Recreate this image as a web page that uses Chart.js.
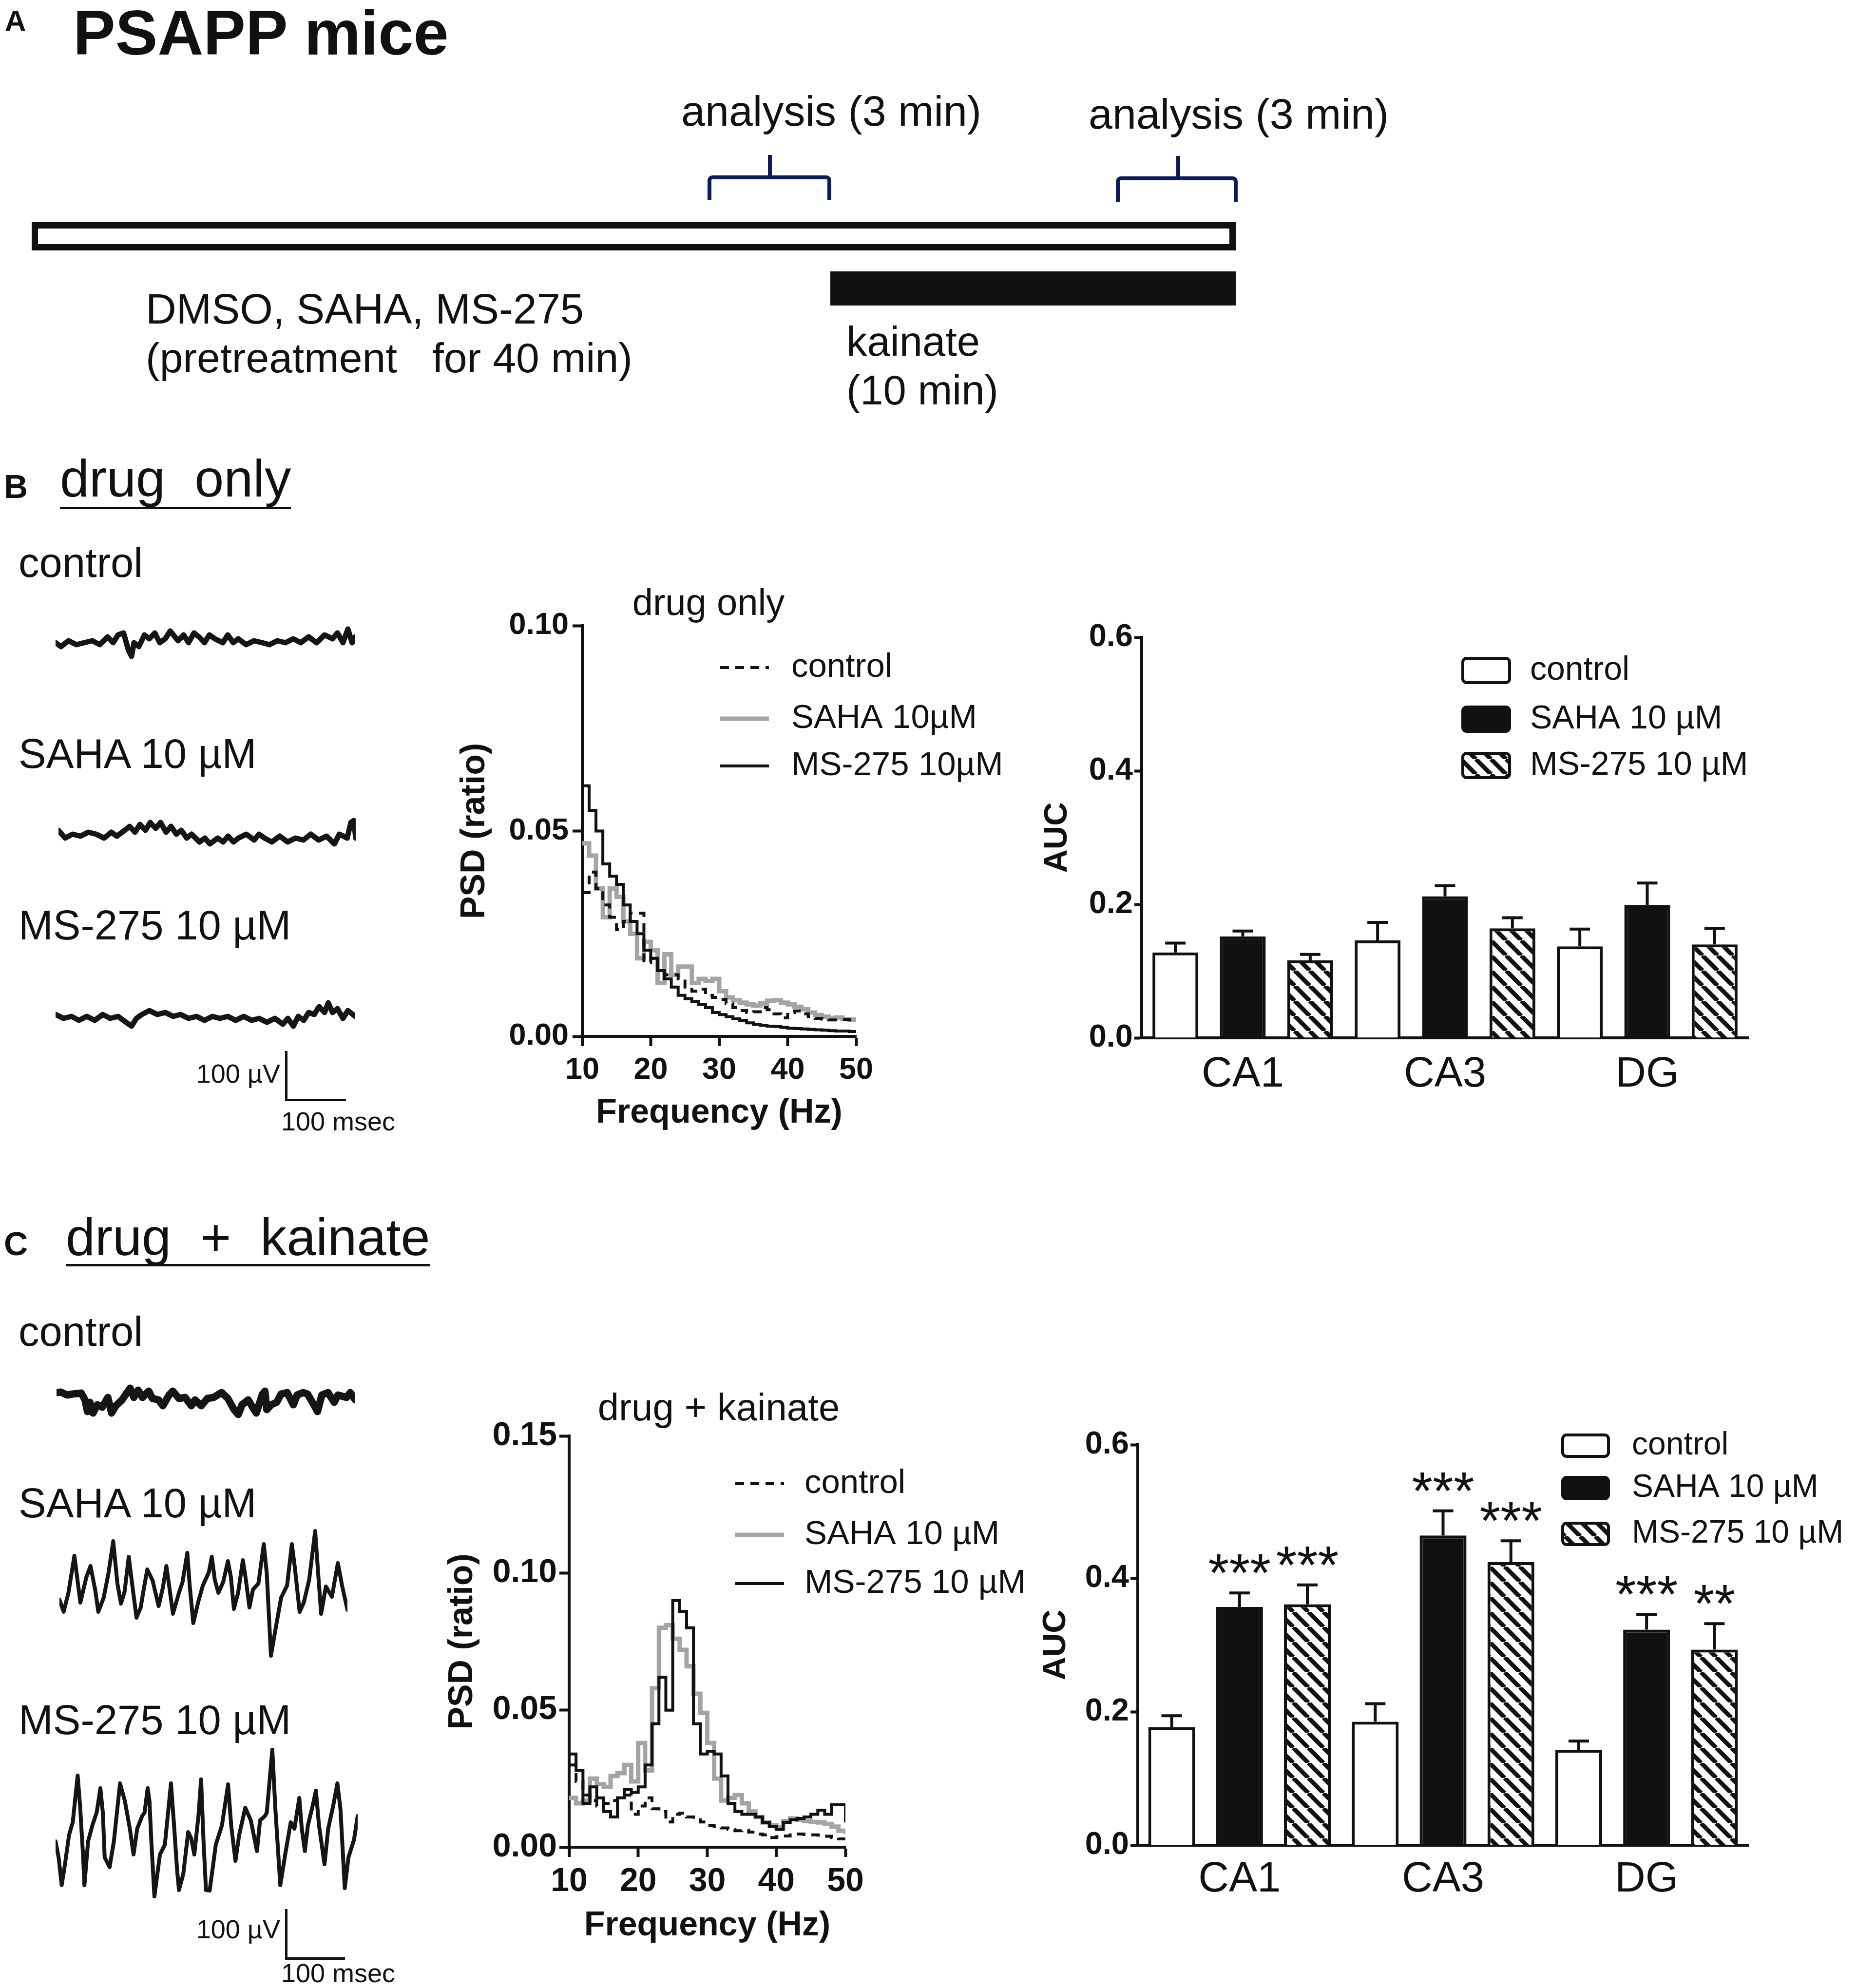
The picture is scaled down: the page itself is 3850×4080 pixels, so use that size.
<!DOCTYPE html>
<html lang="en">
<head>
<meta charset="UTF-8">
<title>PSAPP mice - drug only / drug + kainate</title>
<script src="https://cdn.jsdelivr.net/npm/chart.js"></script>
<style>
  html, body { margin: 0; padding: 0; background: #fff; }
  body { width: 3850px; height: 4080px; position: relative; overflow: hidden;
         font-family: "Liberation Sans", Arial, Helvetica, sans-serif; color: #111; }
  .t { position: absolute; line-height: 1; white-space: pre; }
  .b { position: absolute; }
</style>
</head>
<body>
<script>
// ---------- data ----------
const freqHz = [10,11,12,13,14,15,16,17,18,19,20,21,22,23,24,25,26,27,28,29,30,
                31,32,33,34,35,36,37,38,39,40,41,42,43,44,45,46,47,48,49,50];

// B: drug only, PSD (ratio)
const psdB_control = [0.035,0.040,0.036,0.032,0.029,0.026,0.028,0.030,0.030,0.018,
                      0.019,0.016,0.015,0.015,0.014,0.012,0.011,0.0115,0.010,0.0095,
                      0.009,0.008,0.007,0.0063,0.0058,0.006,0.007,0.0065,0.0055,0.0045,
                      0.0058,0.0062,0.0055,0.0048,0.0044,0.0042,0.0040,0.0040,0.0041,0.0040,0.0040];
const psdB_saha = [0.047,0.044,0.036,0.029,0.036,0.034,0.028,0.025,0.019,0.023,
                   0.021,0.013,0.020,0.015,0.017,0.017,0.013,0.014,0.0135,0.014,
                   0.011,0.0095,0.0088,0.0082,0.0078,0.0075,0.0080,0.0087,0.0088,0.0082,
                   0.0078,0.0072,0.0066,0.0058,0.0052,0.0048,0.0044,0.0046,0.0042,0.0041,0.0040];
const psdB_ms = [0.061,0.055,0.050,0.042,0.039,0.037,0.032,0.028,0.025,0.021,
                 0.019,0.016,0.014,0.012,0.010,0.0092,0.0085,0.0078,0.0070,0.0058,
                 0.0053,0.0048,0.0043,0.0039,0.0033,0.0029,0.0027,0.0025,0.0024,0.0022,
                 0.0020,0.0019,0.0018,0.0017,0.0016,0.0015,0.0014,0.0013,0.0013,0.0012,0.0012];

// C: drug + kainate, PSD (ratio)
const psdC_control = [0.030,0.024,0.019,0.017,0.015,0.016,0.017,0.018,0.019,0.012,
                      0.015,0.018,0.014,0.013,0.0092,0.012,0.0124,0.011,0.010,0.0092,
                      0.008,0.0075,0.007,0.0065,0.006,0.0062,0.0055,0.0048,0.0045,0.0035,
                      0.0038,0.0041,0.0045,0.0048,0.0046,0.0045,0.0044,0.0040,0.0035,0.0030,0.0029];
const psdC_saha = [0.018,0.016,0.017,0.025,0.023,0.022,0.026,0.027,0.030,0.024,
                   0.038,0.028,0.058,0.080,0.081,0.076,0.072,0.066,0.056,0.049,
                   0.038,0.025,0.017,0.018,0.019,0.016,0.013,0.011,0.009,0.008,
                   0.0073,0.0095,0.0105,0.010,0.0095,0.0092,0.009,0.0085,0.0075,0.006,0.0048];
const psdC_ms = [0.034,0.028,0.016,0.022,0.018,0.013,0.011,0.018,0.021,0.020,
                 0.022,0.030,0.045,0.062,0.050,0.090,0.086,0.080,0.045,0.034,
                 0.035,0.034,0.026,0.016,0.013,0.012,0.012,0.011,0.009,0.0075,
                 0.0065,0.009,0.010,0.0105,0.011,0.012,0.0135,0.012,0.0155,0.0155,0.009];

const psdLabelsB = ['control', 'SAHA 10µM', 'MS-275 10µM'];
const psdLabelsC = ['control', 'SAHA 10 µM', 'MS-275 10 µM'];

// AUC bars
const regions = ['CA1', 'CA3', 'DG'];
const barLabels = ['control', 'SAHA 10 µM', 'MS-275 10 µM'];
const aucB_control = [0.128, 0.146, 0.137], errB_control = [0.014, 0.027, 0.026];
const aucB_saha    = [0.152, 0.212, 0.199], errB_saha    = [0.008, 0.016, 0.033];
const aucB_ms      = [0.116, 0.164, 0.140], errB_ms      = [0.009, 0.016, 0.024];
const aucC_control = [0.177, 0.185, 0.143], errC_control = [0.017, 0.027, 0.013];
const aucC_saha    = [0.357, 0.464, 0.323], errC_saha    = [0.021, 0.037, 0.023];
const aucC_ms      = [0.361, 0.424, 0.293], errC_ms      = [0.029, 0.032, 0.039];
const starsC_saha = ['***', '***', '***'];
const starsC_ms   = ['***', '***', '**'];

// example EEG traces: time (ms) and amplitude (µV)
const tB_control = [0,9,21,34,47,60,72,85,94,102,111,119,124,128,136,145,153,162,170,179,187,200,209,217,226,
                    234,243,251,260,273,281,290,298,311,324,337,349,362,375,388,400,413,426,439,452,460,469,477,484,489];
const vB_control = [-4,-12,0,-8,-4,0,-8,8,-4,12,16,-20,-32,-4,-12,12,4,16,-4,4,20,0,12,-4,16,
                    8,-4,12,4,-4,12,-4,4,-8,0,-4,-8,0,-4,4,-4,8,-4,12,4,16,-4,24,-4,8];
const tB_saha = [0,11,23,36,49,62,75,87,96,109,117,126,134,143,151,160,168,177,185,194,202,211,219,232,241,
                 249,262,271,279,288,296,309,322,330,339,351,364,377,390,403,415,428,441,454,462,475,481,486,489];
const vB_saha = [8,-8,0,-4,4,0,-8,4,-4,8,16,4,20,8,24,12,24,4,16,0,8,-8,0,-16,-8,
                 -20,-8,-16,-4,-16,-8,0,-12,0,-8,-16,-4,-16,-8,-12,0,-12,-4,-20,0,-8,24,28,-8];
const tB_ms = [0,13,26,38,51,64,77,89,102,115,124,132,141,153,166,179,192,204,217,230,243,256,268,281,294,
               307,320,332,345,358,371,379,388,396,405,413,422,430,439,445,452,460,469,477,489];
const vB_ms = [4,-4,0,-8,0,-8,4,-4,0,-12,-20,-4,4,12,4,8,0,4,-4,0,-8,0,-4,0,-8,
               0,-8,-4,-12,-4,-16,-4,-20,0,-8,8,4,20,8,28,8,16,-4,12,0];
const tC_control = [0,7,17,26,40,46,50,54,59,66,74,83,89,96,106,114,119,125,132,139,149,155,165,172,182,188,198,208,
                    218,224,234,244,254,267,277,287,294,300,310,317,323,333,337,340,347,356,363,373,383,389,399,406,
                    416,422,429,439,449,455,469,475,483];
const vC_control = [15,16,10,12,14,0,-24,-5,-27,-10,-15,5,-27,-12,0,15,24,5,20,5,18,3,0,-12,10,18,3,5,
                    -12,0,-12,3,5,15,3,-20,-30,-10,0,-15,-27,12,18,-20,-10,-5,12,15,-10,10,15,12,
                    -10,-24,10,15,-5,10,5,15,0];
const tC_saha = [0,7,15,25,35,45,52,60,65,74,82,90,97,103,109,116,122,129,136,141,147,156,166,173,179,185,190,200,
                 206,214,218,224,232,240,250,255,260,266,274,282,287,292,299,307,312,318,324,333,342,347,354,361,
                 371,381,389,394,402,409,418,428,433,438,446,456,466,473,482];
const vC_saha = [-4,-29,10,86,-10,42,65,15,-29,0,50,116,29,-12,12,84,25,-41,-20,17,58,35,-17,20,65,12,-33,10,
                 32,92,25,-52,-10,25,52,84,37,10,32,75,42,-23,10,77,37,-20,17,29,110,50,-119,-69,
                 0,25,110,62,-29,-10,37,137,50,-33,23,2,71,25,-25];
const tC_ms = [0,5,10,15,22,28,36,40,45,47,53,60,67,73,77,80,88,95,105,113,121,127,133,141,145,150,153,156,161,170,
               178,188,193,198,201,208,216,221,226,233,237,241,245,251,261,271,281,286,293,299,309,318,328,333,341,
               344,353,358,366,374,383,389,397,401,406,411,418,424,429,438,444,452,459,464,471,477,486,492];
const vC_ms = [-26,-59,-116,-76,-13,13,109,46,-59,-116,-26,7,33,83,33,-59,-79,-26,93,56,0,-53,0,26,33,83,56,-26,-139,-53,
               -33,93,7,-86,-126,-93,-7,-20,-53,30,101,-26,-126,-127,-33,7,91,7,-66,-13,43,17,-46,17,26,
               33,162,40,-116,-53,13,0,63,0,-46,7,43,78,7,-73,0,46,93,40,-122,-59,-23,26];

// ---------- helpers ----------
const FONT = '"Liberation Sans", Arial, Helvetica, sans-serif';
Chart.defaults.font.family = FONT;
Chart.defaults.color = '#111';

const pairs = (xs, ys) => xs.map((x, i) => ({ x, y: ys[i] }));

function addText(txt, left, baseline, size, extra) {
  const d = document.createElement('div');
  d.className = 't';
  d.textContent = txt;
  d.style.left = left + 'px';
  d.style.top = (baseline - 0.8465 * size) + 'px';
  d.style.fontSize = size + 'px';
  if (extra) Object.assign(d.style, extra);
  document.body.appendChild(d);
  return d;
}
function addCentered(txt, cx, baseline, size) {
  return addText(txt, cx - 600, baseline, size, { width: '1200px', textAlign: 'center' });
}
function addRight(txt, right, baseline, size) {
  return addText(txt, right - 600, baseline, size, { width: '600px', textAlign: 'right' });
}
function box(left, top, width, height, style) {
  const d = document.createElement('div');
  d.className = 'b';
  Object.assign(d.style, { left: left + 'px', top: top + 'px', width: width + 'px', height: height + 'px' }, style);
  document.body.appendChild(d);
  return d;
}
function underline(el, y) {
  box(parseFloat(el.style.left), y, el.offsetWidth, 5, { background: '#111' });
}
function makeCanvas(left, top, width, height) {
  const div = box(left, top, width, height, {});
  const c = document.createElement('canvas');
  div.appendChild(c);
  return c;
}

// hatch tile for MS-275 bars
const hatchTile = document.createElement('canvas');
(function () {
  const s = 31;
  hatchTile.width = s; hatchTile.height = s;
  const g = hatchTile.getContext('2d');
  g.fillStyle = '#fff'; g.fillRect(0, 0, s, s);
  g.strokeStyle = '#111'; g.lineWidth = 9;
  g.beginPath();
  for (let k = -1; k <= 1; k++) { g.moveTo(k * s, 0); g.lineTo(k * s + s, s); }
  g.stroke();
})();

// ---------- plugins ----------
const psdLegend = {
  id: 'psdLegend',
  afterDraw(chart, args, o) {
    const ctx = chart.ctx;
    chart.data.datasets.forEach((ds, i) => {
      const y = o.rows[i];
      ctx.save();
      ctx.strokeStyle = ds.borderColor;
      ctx.lineWidth = ds.borderWidth;
      ctx.setLineDash(ds.borderDash || []);
      ctx.beginPath(); ctx.moveTo(o.x, y); ctx.lineTo(o.x + o.sample, y); ctx.stroke();
      ctx.setLineDash([]);
      ctx.fillStyle = '#111';
      ctx.font = `${o.size}px ${FONT}`;
      ctx.textBaseline = 'middle';
      ctx.fillText(ds.label, o.x + o.sample + o.gap, y);
      ctx.restore();
    });
  }
};

const barExtras = {
  id: 'barExtras',
  afterDatasetsDraw(chart, args, o) {
    const ctx = chart.ctx, y = chart.scales.y;
    chart.data.datasets.forEach((ds, i) => {
      chart.getDatasetMeta(i).data.forEach((bar, j) => {
        const top = y.getPixelForValue(ds.data[j] + ds.err[j]);
        ctx.save();
        ctx.strokeStyle = '#111'; ctx.lineWidth = 6;
        ctx.beginPath();
        ctx.moveTo(bar.x, bar.y); ctx.lineTo(bar.x, top);
        ctx.moveTo(bar.x - o.cap, top); ctx.lineTo(bar.x + o.cap, top);
        ctx.stroke();
        if (ds.stars && ds.stars[j]) {
          ctx.fillStyle = '#111';
          ctx.font = `${o.starSize}px ${FONT}`;
          ctx.textAlign = 'center';
          ctx.textBaseline = 'alphabetic';
          ctx.fillText(ds.stars[j], bar.x, top - o.starGap);
        }
        ctx.restore();
      });
    });
  },
  afterDraw(chart, args, o) {
    const ctx = chart.ctx, L = o.legend;
    chart.data.datasets.forEach((ds, i) => {
      const yc = L.rows[i];
      ctx.save();
      ctx.beginPath();
      ctx.roundRect(L.x, yc - L.h / 2, L.w, L.h, 8);
      ctx.fillStyle = ds.backgroundColor; ctx.fill();
      ctx.lineWidth = 6; ctx.strokeStyle = '#111'; ctx.stroke();
      ctx.fillStyle = '#111';
      ctx.font = `${L.size}px ${FONT}`;
      ctx.textBaseline = 'middle';
      ctx.fillText(ds.label, L.textX, yc);
      ctx.restore();
    });
  }
};

// ---------- chart builders ----------
function psdChart(o) {
  const padTop = 60;
  const left = o.area.left - o.yW, top = o.area.top - padTop;
  const width = o.area.right + o.padRight - left, height = o.area.bottom + o.xH - top;
  const canvas = makeCanvas(left, top, width, height);
  const tickFont = { size: o.tick, weight: 'bold' };
  const titleFont = { size: 70, weight: 'bold' };
  const grid = { display: true, drawOnChartArea: false, drawTicks: true, tickLength: 20, tickWidth: 6, tickColor: '#111' };
  const border = { display: true, color: '#111', width: 6 };
  const line = { stepped: true, pointRadius: 0, fill: false };
  new Chart(canvas, {
    type: 'line',
    data: { datasets: [
      { ...line, label: o.labels[0], data: pairs(freqHz, o.control), borderColor: '#111', borderWidth: 6, borderDash: [18, 13], order: 0 },
      { ...line, label: o.labels[1], data: pairs(freqHz, o.saha), borderColor: '#a4a4a4', borderWidth: 9, order: 2 },
      { ...line, label: o.labels[2], data: pairs(freqHz, o.ms), borderColor: '#111', borderWidth: 6, order: 1 }
    ]},
    options: {
      responsive: true, maintainAspectRatio: false, animation: false,
      layout: { padding: { left: 0, top: padTop, right: o.padRight, bottom: 0 } },
      plugins: {
        legend: { display: false }, tooltip: { enabled: false },
        psdLegend: { x: o.legend.x - left, rows: o.legend.rows.map(r => r - top), sample: 100, gap: o.legend.gap, size: 69 }
      },
      scales: {
        x: { type: 'linear', min: 10, max: 50,
             ticks: { stepSize: 10, font: tickFont, color: '#111', padding: o.xPad, maxRotation: 0 },
             grid, border,
             title: { display: true, text: 'Frequency (Hz)', font: titleFont, color: '#111', padding: 0 },
             afterFit: s => { s.height = o.xH; } },
        y: { type: 'linear', min: 0, max: o.yMax,
             ticks: { stepSize: 0.05, font: tickFont, color: '#111', padding: o.yPad, callback: v => v.toFixed(2) },
             grid, border,
             title: { display: true, text: 'PSD (ratio)', font: titleFont, color: '#111', padding: 0 },
             afterFit: s => { s.width = o.yW; } }
      }
    },
    plugins: [psdLegend]
  });
}

function aucChart(o) {
  const padTop = 60;
  const left = o.area.left - o.yW, top = o.area.top - padTop;
  const width = o.area.right + o.padRight - left, height = o.area.bottom + o.xH - top;
  const canvas = makeCanvas(left, top, width, height);
  const hatch = canvas.getContext('2d').createPattern(hatchTile, 'repeat');
  const border = { display: true, color: '#111', width: 6 };
  const bar = { borderColor: '#111', borderWidth: 6, borderSkipped: 'start', categoryPercentage: 1, barPercentage: o.barPct };
  const L = o.legend;
  new Chart(canvas, {
    type: 'bar',
    data: { labels: regions, datasets: [
      { ...bar, label: barLabels[0], data: o.control, err: o.errControl, backgroundColor: '#fff' },
      { ...bar, label: barLabels[1], data: o.saha, err: o.errSaha, stars: o.starsSaha, backgroundColor: '#111' },
      { ...bar, label: barLabels[2], data: o.ms, err: o.errMs, stars: o.starsMs, backgroundColor: hatch }
    ]},
    options: {
      responsive: true, maintainAspectRatio: false, animation: false,
      layout: { padding: { left: 0, top: padTop, right: o.padRight, bottom: 0 } },
      plugins: {
        legend: { display: false }, tooltip: { enabled: false },
        barExtras: { cap: 21, starSize: 110, starGap: 4,
          legend: { x: L.x - left, w: L.w, h: L.h, rows: L.rows.map(r => r - top), textX: L.textX - left, size: L.size } }
      },
      scales: {
        x: { ticks: { font: { size: 87 }, color: '#111', padding: o.xPad },
             grid: { display: false, drawTicks: false }, border,
             afterFit: s => { s.height = o.xH; } },
        y: { min: 0, max: 0.6,
             ticks: { stepSize: 0.2, font: { size: 65, weight: 'bold' }, color: '#111', padding: 3, callback: v => v.toFixed(1) },
             grid: { display: true, drawOnChartArea: false, drawTicks: true, tickLength: 15, tickWidth: 6, tickColor: '#111' },
             border,
             title: { display: true, text: 'AUC', font: { size: 67, weight: 'bold' }, color: '#111', padding: 0 },
             afterFit: s => { s.width = o.yW; } }
      }
    },
    plugins: [barExtras]
  });
}

function traceChart(t, v, o) {
  const pad = 14;
  const canvas = makeCanvas(o.left - pad, o.zero - o.range - pad, o.right - o.left + 2 * pad, 2 * o.range + 2 * pad);
  new Chart(canvas, {
    type: 'line',
    data: { datasets: [{ data: pairs(t, v), borderColor: '#151515', borderWidth: o.lw, pointRadius: 0, tension: 0,
                         borderJoinStyle: 'round', borderCapStyle: 'round' }] },
    options: {
      responsive: true, maintainAspectRatio: false, animation: false,
      layout: { padding: pad },
      plugins: { legend: { display: false }, tooltip: { enabled: false } },
      scales: { x: { type: 'linear', display: false, min: 0, max: t[t.length - 1] },
                y: { display: false, min: -o.range, max: o.range } }
    }
  });
}

// ---------- panel A : protocol ----------
addText('A', 10, 64, 60, { fontWeight: 'bold' });
addText('PSAPP mice', 150, 112, 130, { fontWeight: 'bold' });
addText('analysis (3 min)', 1398, 258, 88);
addText('analysis (3 min)', 2234, 264, 88);
box(1452, 360, 254, 50, { border: '8px solid #0d1b5a', borderBottom: 'none', borderRadius: '10px 10px 0 0', boxSizing: 'border-box' });
box(1576, 318, 8, 50, { background: '#0d1b5a' });
box(2290, 362, 250, 52, { border: '8px solid #0d1b5a', borderBottom: 'none', borderRadius: '10px 10px 0 0', boxSizing: 'border-box' });
box(2414, 320, 8, 50, { background: '#0d1b5a' });
box(65, 456, 2471, 58, { border: '13px solid #111', boxSizing: 'border-box', background: '#fff' });
box(1704, 557, 832, 70, { background: '#111' });
addText('DMSO, SAHA, MS-275', 299, 664, 87);
addText('(pretreatment   for 40 min)', 299, 764, 86);
addText('kainate', 1737, 730, 85);
addText('(10 min)', 1737, 830, 85);

// ---------- panel B : drug only ----------
addText('B', 8, 1022, 68, { fontWeight: 'bold' });
underline(addText('drug  only', 123, 1019, 108), 1040);
addText('control', 38, 1184, 85);
addText('SAHA 10 µM', 38, 1576, 85);
addText('MS-275 10 µM', 38, 1928, 85);
traceChart(tB_control, vB_control, { left: 114, right: 729, zero: 1315, range: 60, lw: 11 });
traceChart(tB_saha, vB_saha, { left: 120, right: 730, zero: 1712, range: 60, lw: 11 });
traceChart(tB_ms, vB_ms, { left: 114, right: 729, zero: 2086, range: 60, lw: 11 });
box(585, 2157, 5, 100, { background: '#111' });
box(585, 2255, 125, 5, { background: '#111' });
addRight('100 µV', 575, 2222, 54);
addText('100 msec', 577, 2320, 54);

addCentered('drug only', 1454, 1262, 76);
psdChart({ area: { left: 1195, right: 1757, top: 1284, bottom: 2127 }, yW: 262, xH: 200, padRight: 320,
           yMax: 0.10, tick: 63, xPad: 12, yPad: 8, labels: psdLabelsB,
           control: psdB_control, saha: psdB_saha, ms: psdB_ms,
           legend: { x: 1478, gap: 46, rows: [1370, 1475, 1572] } });

aucChart({ area: { left: 2343, right: 3588, top: 1308, bottom: 2130 }, yW: 213, xH: 140, padRight: 100,
           xPad: 24, barPct: 0.68,
           control: aucB_control, errControl: errB_control, saha: aucB_saha, errSaha: errB_saha,
           ms: aucB_ms, errMs: errB_ms,
           legend: { x: 3002, w: 96, h: 50, rows: [1376, 1476, 1571], textX: 3140, size: 68 } });

// ---------- panel C : drug + kainate ----------
addText('C', 8, 2576, 68, { fontWeight: 'bold' });
underline(addText('drug  +  kainate', 135, 2576, 108), 2594);
addText('control', 38, 2762, 85);
addText('SAHA 10 µM', 38, 3114, 85);
addText('MS-275 10 µM', 38, 3559, 85);
traceChart(tC_control, vC_control, { left: 116, right: 729, zero: 2873, range: 45, lw: 15 });
traceChart(tC_saha, vC_saha, { left: 122, right: 713, zero: 3279, range: 160, lw: 8 });
traceChart(tC_ms, vC_ms, { left: 114, right: 734, zero: 3753, range: 200, lw: 8 });
box(585, 3918, 5, 102, { background: '#111' });
box(585, 4017, 123, 5, { background: '#111' });
addRight('100 µV', 575, 3978, 54);
addText('100 msec', 577, 4068, 54);

addCentered('drug + kainate', 1475, 2915, 78);
psdChart({ area: { left: 1168, right: 1735, top: 2947, bottom: 3791 }, yW: 260, xH: 204, padRight: 380,
           yMax: 0.15, tick: 68, xPad: 10, yPad: 5, labels: psdLabelsC,
           control: psdC_control, saha: psdC_saha, ms: psdC_ms,
           legend: { x: 1509, gap: 42, rows: [3045, 3150, 3250] } });

aucChart({ area: { left: 2335, right: 3588, top: 2965, bottom: 3787 }, yW: 208, xH: 140, padRight: 250,
           xPad: 19, barPct: 0.69,
           control: aucC_control, errControl: errC_control, saha: aucC_saha, errSaha: errC_saha,
           ms: aucC_ms, errMs: errC_ms, starsSaha: starsC_saha, starsMs: starsC_ms,
           legend: { x: 3207, w: 94, h: 44, rows: [2967, 3054, 3148], textX: 3349, size: 66 } });
</script>
</body>
</html>
